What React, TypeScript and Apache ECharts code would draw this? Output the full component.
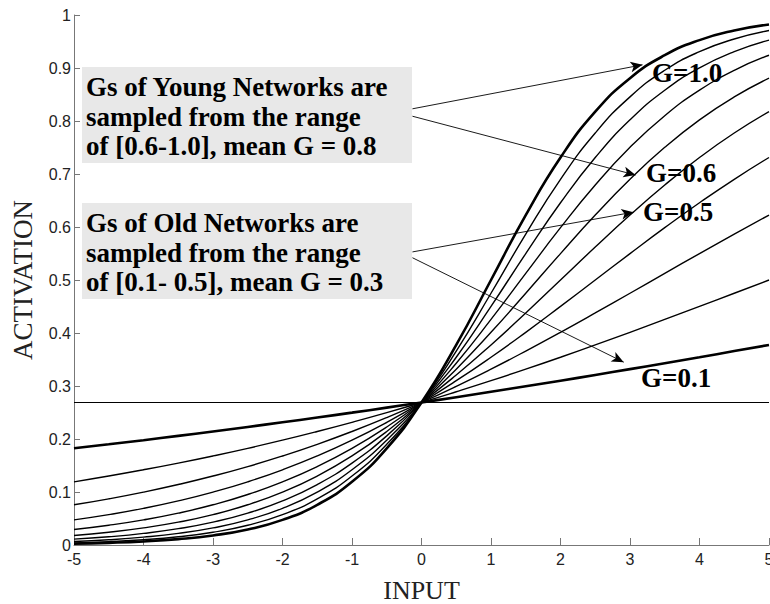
import React, { useEffect, useRef } from "react";
import * as echarts from "echarts";

const xValues = [-5, -4.5, -4, -3.5, -3, -2.5, -2, -1.5, -1, -0.5, 0, 0.5, 1, 1.5, 2, 2.5, 3, 3.5, 4, 4.5, 5];

const gains = ["0.1", "0.2", "0.3", "0.4", "0.5", "0.6", "0.7", "0.8", "0.9", "1.0"];

const curveG01 = [0.1824, 0.19, 0.1978, 0.2059, 0.2142, 0.2227, 0.2315, 0.2405, 0.2497, 0.2592, 0.2689, 0.2789, 0.2891, 0.2994, 0.31, 0.3208, 0.3318, 0.343, 0.3543, 0.3659, 0.3775];
const curveG02 = [0.1192, 0.1301, 0.1419, 0.1545, 0.168, 0.1824, 0.1978, 0.2142, 0.2315, 0.2497, 0.2689, 0.2891, 0.31, 0.3318, 0.3543, 0.3775, 0.4013, 0.4256, 0.4502, 0.475, 0.5];
const curveG03 = [0.0759, 0.0871, 0.0998, 0.1141, 0.1301, 0.148, 0.168, 0.19, 0.2142, 0.2405, 0.2689, 0.2994, 0.3318, 0.3659, 0.4013, 0.4378, 0.475, 0.5125, 0.5498, 0.5866, 0.6225];
const curveG04 = [0.0474, 0.0573, 0.0691, 0.0832, 0.0998, 0.1192, 0.1419, 0.168, 0.1978, 0.2315, 0.2689, 0.31, 0.3543, 0.4013, 0.4502, 0.5, 0.5498, 0.5987, 0.6457, 0.69, 0.7311];
const curveG05 = [0.0293, 0.0373, 0.0474, 0.0601, 0.0759, 0.0953, 0.1192, 0.148, 0.1824, 0.2227, 0.2689, 0.3208, 0.3775, 0.4378, 0.5, 0.5622, 0.6225, 0.6792, 0.7311, 0.7773, 0.8176];
const curveG06 = [0.018, 0.0241, 0.0323, 0.0431, 0.0573, 0.0759, 0.0998, 0.1301, 0.168, 0.2142, 0.2689, 0.3318, 0.4013, 0.475, 0.5498, 0.6225, 0.69, 0.7503, 0.8022, 0.8455, 0.8808];
const curveG07 = [0.011, 0.0155, 0.0219, 0.0308, 0.0431, 0.0601, 0.0832, 0.1141, 0.1545, 0.2059, 0.2689, 0.343, 0.4256, 0.5125, 0.5987, 0.6792, 0.7503, 0.81, 0.8581, 0.8957, 0.9241];
const curveG08 = [0.0067, 0.0099, 0.0148, 0.0219, 0.0323, 0.0474, 0.0691, 0.0998, 0.1419, 0.1978, 0.2689, 0.3543, 0.4502, 0.5498, 0.6457, 0.7311, 0.8022, 0.8581, 0.9002, 0.9309, 0.9526];
const curveG09 = [0.0041, 0.0064, 0.0099, 0.0155, 0.0241, 0.0373, 0.0573, 0.0871, 0.1301, 0.19, 0.2689, 0.3659, 0.475, 0.5866, 0.69, 0.7773, 0.8455, 0.8957, 0.9309, 0.9548, 0.9707];
const curveG10 = [0.0025, 0.0041, 0.0067, 0.011, 0.018, 0.0293, 0.0474, 0.0759, 0.1192, 0.1824, 0.2689, 0.3775, 0.5, 0.6225, 0.7311, 0.8176, 0.8808, 0.9241, 0.9526, 0.9707, 0.982];

const curves = [curveG01, curveG02, curveG03, curveG04, curveG05, curveG06, curveG07, curveG08, curveG09, curveG10];

const baselineValue = 0.2689;

const yTickLabels = ["0", "0.1", "0.2", "0.3", "0.4", "0.5", "0.6", "0.7", "0.8", "0.9", "1"];

const youngLines = ["Gs of Young Networks are", "sampled from the range", "of [0.6-1.0], mean G = 0.8"];
const oldLines = ["Gs of Old Networks are", "sampled from the range", "of [0.1- 0.5], mean G = 0.3"];

// annotation arrows in data coords: [startX, startY, endX, endY]
const arrows = [
  [-0.13, 0.823, 3.18, 0.906],
  [-0.13, 0.809, 3.08, 0.698],
  [-0.13, 0.553, 3.05, 0.628],
  [-0.13, 0.542, 2.91, 0.345],
];

const gLabels = [
  { text: "G=1.0", x: 652, y: 73 },
  { text: "G=0.6", x: 646, y: 173 },
  { text: "G=0.5", x: 643, y: 212 },
  { text: "G=0.1", x: 641, y: 378 },
];

const SERIF = "Liberation Serif";
const SANS = "Liberation Sans";

export default function App() {
  const ref = useRef<HTMLDivElement>(null);
  useEffect(() => {
    document.body.style.margin = "0";
    if (!ref.current) return;
    const chart = echarts.init(ref.current, null, { renderer: "svg" });

    const series: any[] = curves.map((c, i) => ({
      name: "G=" + gains[i],
      type: "line",
      data: c.map((v, j) => [xValues[j], v]),
      smooth: true,
      symbol: "none",
      lineStyle: {
        color: "#000",
        width: i === 0 || i === curves.length - 1 ? 2.6 : 1.4,
      },
      z: 3,
    }));

    series.push({
      name: "baseline",
      type: "line",
      data: [
        [xValues[0], baselineValue],
        [xValues[xValues.length - 1], baselineValue],
      ],
      symbol: "none",
      lineStyle: { color: "#000", width: 1.2 },
      z: 2,
      markLine: {
        silent: true,
        symbol: ["none", "arrow"],
        symbolSize: [8, 12],
        label: { show: false },
        lineStyle: { color: "#000", width: 0.9, type: "solid" },
        data: arrows.map((a) => [
          { coord: [a[0], a[1]] },
          { coord: [a[2], a[3]] },
        ]),
        z: 6,
      },
    });

    const textStyle = {
      fontFamily: SERIF,
      fontWeight: "bold",
      fontSize: 27,
      fill: "#000",
      textVerticalAlign: "middle",
      textAlign: "left",
    };

    const textEls: any[] = [];
    const addBox = (lines: string[], top: number) => {
      textEls.push({
        type: "rect",
        shape: { x: 82, y: top, width: 330, height: 96 },
        style: { fill: "#e8e8e8" },
        z: 10,
      });
      lines.forEach((l, i) => {
        textEls.push({
          type: "text",
          x: 86,
          y: top + 20 + i * 29.5,
          style: { ...textStyle, text: l },
          z: 11,
        });
      });
    };
    addBox(youngLines, 67);
    addBox(oldLines, 203);
    gLabels.forEach((g) => {
      textEls.push({
        type: "text",
        x: g.x,
        y: g.y,
        style: { ...textStyle, text: g.text },
        z: 11,
      });
    });

    chart.setOption({
      animation: false,
      backgroundColor: "#fff",
      grid: { left: 74, right: 1, top: 15, bottom: 59, containLabel: false, outerBoundsMode: "none" },
      xAxis: {
        type: "value",
        min: -5,
        max: 5,
        interval: 1,
        name: "INPUT",
        nameLocation: "middle",
        nameGap: 32,
        nameTextStyle: { fontFamily: SERIF, fontSize: 26, color: "#222" },
        axisLine: { show: true, onZero: false, lineStyle: { color: "#777", width: 1 } },
        axisTick: { show: true, inside: true, length: 7, lineStyle: { color: "#777" } },
        axisLabel: { fontFamily: SANS, fontSize: 16, color: "#222", margin: 6 },
        splitLine: { show: false },
      },
      yAxis: {
        type: "value",
        min: 0,
        max: 1,
        interval: 0.1,
        name: "ACTIVATION",
        nameLocation: "middle",
        nameRotate: 90,
        nameGap: 38,
        nameTextStyle: { fontFamily: SERIF, fontSize: 27, color: "#222" },
        axisLine: { show: true, onZero: false, lineStyle: { color: "#777", width: 1 } },
        axisTick: { show: true, inside: true, length: 6, lineStyle: { color: "#777" } },
        axisLabel: {
          fontFamily: SANS,
          fontSize: 16,
          color: "#222",
          margin: 3,
          formatter: (v: number) => yTickLabels[Math.round(v * 10)] ?? String(v),
        },
        splitLine: { show: false },
      },
      series,
      graphic: textEls,
    });
    return () => chart.dispose();
  }, []);
  return <div ref={ref} style={{ width: 770, height: 604 }} />;
}
